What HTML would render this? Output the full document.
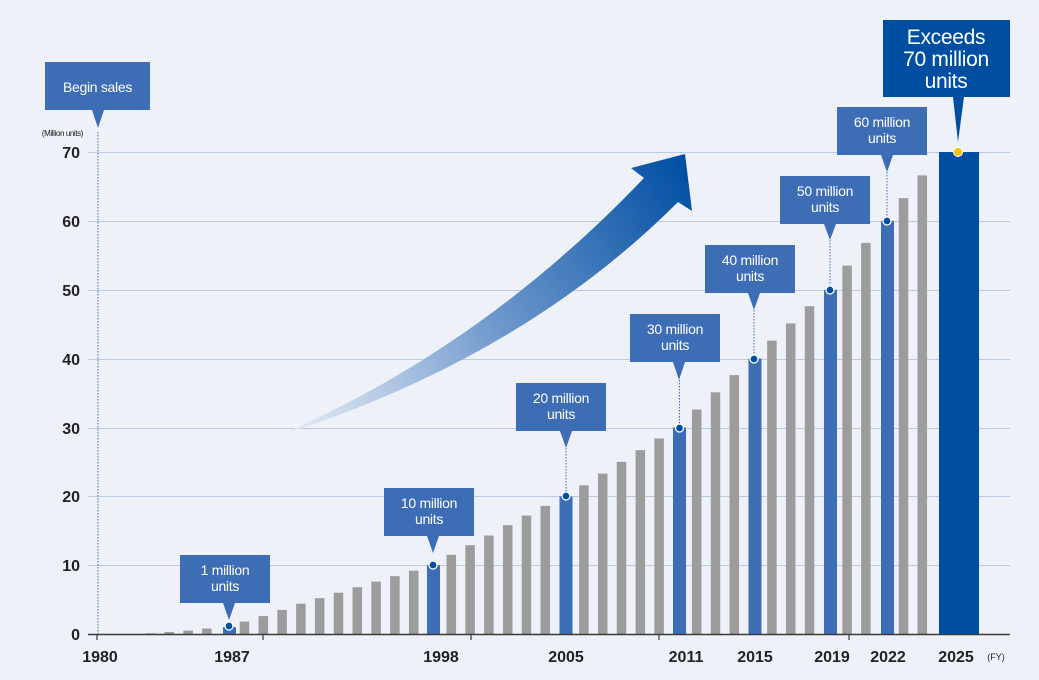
<!DOCTYPE html>
<html><head><meta charset="utf-8"><style>
html,body{margin:0;padding:0;background:#eef1f8;}
svg{display:block;font-family:"Liberation Sans",sans-serif;}
</style></head><body>
<svg width="1039" height="680" viewBox="0 0 1039 680" xmlns="http://www.w3.org/2000/svg">
<defs>
<linearGradient id="ag" x1="275" y1="437" x2="692" y2="170" gradientUnits="userSpaceOnUse">
<stop offset="0" stop-color="#eef1f8" stop-opacity="0.9"/>
<stop offset="0.5" stop-color="#6e98cc"/>
<stop offset="1" stop-color="#004ea2"/>
</linearGradient>
</defs>
<rect width="1039" height="680" fill="#eef1f8"/>
<g stroke="#bccbe2" stroke-width="1">
<line x1="88" y1="152.5" x2="1010" y2="152.5"/>
<line x1="88" y1="221.5" x2="1010" y2="221.5"/>
<line x1="88" y1="290.5" x2="1010" y2="290.5"/>
<line x1="88" y1="359.5" x2="1010" y2="359.5"/>
<line x1="88" y1="428.5" x2="1010" y2="428.5"/>
<line x1="88" y1="496.5" x2="1010" y2="496.5"/>
<line x1="88" y1="565.5" x2="1010" y2="565.5"/>
</g>
<line x1="98" y1="132" x2="98" y2="634" stroke="#3d6db5" stroke-width="1" stroke-dasharray="1.5,1.5"/>
<g font-size="16" font-weight="bold" fill="#222" text-anchor="end">
<text x="80" y="158">70</text><text x="80" y="227">60</text><text x="80" y="296">50</text>
<text x="80" y="365">40</text><text x="80" y="434">30</text><text x="80" y="502">20</text>
<text x="80" y="571">10</text><text x="80" y="640">0</text>
</g>
<text x="83" y="136" font-size="8" text-anchor="end" fill="#222" letter-spacing="-0.4">(Million units)</text>
<path d="M275,437 Q520,360 678,202 L692,211 L685,154 L631,168 L644,178 Q480,350 275,437 Z" fill="url(#ag)"/>
<g fill="#9c9c9c">
<rect x="145.75" y="633.31" width="9.5" height="0.69"/>
<rect x="164.55" y="631.93" width="9.5" height="2.07"/>
<rect x="183.35" y="630.56" width="9.5" height="3.44"/>
<rect x="202.15" y="628.49" width="9.5" height="5.51"/>
<rect x="239.75" y="621.61" width="9.5" height="12.39"/>
<rect x="258.55" y="616.1" width="9.5" height="17.9"/>
<rect x="277.35" y="609.9" width="9.5" height="24.1"/>
<rect x="296.15" y="603.7" width="9.5" height="30.3"/>
<rect x="314.95" y="598.19" width="9.5" height="35.81"/>
<rect x="333.75" y="592.68" width="9.5" height="41.32"/>
<rect x="352.55" y="587.18" width="9.5" height="46.82"/>
<rect x="371.35" y="581.67" width="9.5" height="52.33"/>
<rect x="390.15" y="576.16" width="9.5" height="57.84"/>
<rect x="408.95" y="570.65" width="9.5" height="63.35"/>
<rect x="446.55" y="554.81" width="9.5" height="79.19"/>
<rect x="465.35" y="545.17" width="9.5" height="88.83"/>
<rect x="484.15" y="535.53" width="9.5" height="98.47"/>
<rect x="502.95" y="525.2" width="9.5" height="108.8"/>
<rect x="521.75" y="515.56" width="9.5" height="118.44"/>
<rect x="540.55" y="505.92" width="9.5" height="128.08"/>
<rect x="579.15" y="485.26" width="9.5" height="148.74"/>
<rect x="597.95" y="473.56" width="9.5" height="160.44"/>
<rect x="616.75" y="461.85" width="9.5" height="172.15"/>
<rect x="635.55" y="450.14" width="9.5" height="183.86"/>
<rect x="654.35" y="438.44" width="9.5" height="195.56"/>
<rect x="691.95" y="409.52" width="9.5" height="224.48"/>
<rect x="710.75" y="392.3" width="9.5" height="241.7"/>
<rect x="729.55" y="375.09" width="9.5" height="258.91"/>
<rect x="767.15" y="340.66" width="9.5" height="293.34"/>
<rect x="785.95" y="323.44" width="9.5" height="310.56"/>
<rect x="804.75" y="306.23" width="9.5" height="327.77"/>
<rect x="842.35" y="265.6" width="9.5" height="368.4"/>
<rect x="861.15" y="242.88" width="9.5" height="391.12"/>
<rect x="898.75" y="198.12" width="9.5" height="435.88"/>
<rect x="917.55" y="175.39" width="9.5" height="458.61"/>
</g>
<g fill="#3d6db5">
<rect x="223" y="627.11" width="13" height="6.89"/>
<rect x="427" y="565.14" width="13" height="68.86"/>
<rect x="559.5" y="496.28" width="13" height="137.72"/>
<rect x="673" y="427.42" width="13" height="206.58"/>
<rect x="748.5" y="358.56" width="13" height="275.44"/>
<rect x="824" y="289.7" width="13" height="344.3"/>
<rect x="881" y="220.84" width="13" height="413.16"/>
</g>
<rect x="939" y="152" width="40" height="482" fill="#004ea2"/>
<line x1="88" y1="634.5" x2="1010" y2="634.5" stroke="#3a3a3a" stroke-width="1.5"/>
<g stroke="#3a3a3a" stroke-width="1.2">
<line x1="97" y1="634" x2="97" y2="640"/><line x1="263" y1="634" x2="263" y2="640"/>
<line x1="471" y1="634" x2="471" y2="640"/><line x1="659" y1="634" x2="659" y2="640"/>
<line x1="849" y1="634" x2="849" y2="640"/>
</g>
<g font-size="16" font-weight="bold" fill="#222" text-anchor="middle">
<text x="100" y="662">1980</text><text x="232" y="662">1987</text><text x="441" y="662">1998</text>
<text x="566" y="662">2005</text><text x="686" y="662">2011</text><text x="755" y="662">2015</text>
<text x="832" y="662">2019</text><text x="888" y="662">2022</text><text x="956" y="662">2025</text>
</g>
<text x="996" y="660" font-size="9" fill="#222" text-anchor="middle">(FY)</text>
<g stroke="#3d6db5" stroke-width="1" stroke-dasharray="1.5,1.5">
<line x1="566" y1="448" x2="566" y2="496"/><line x1="679.5" y1="380" x2="679.5" y2="428"/>
<line x1="754" y1="310" x2="754" y2="359"/><line x1="830" y1="240" x2="830" y2="290"/>
<line x1="887" y1="172" x2="887" y2="221"/>
</g>
<g fill="#3d6db5">
<rect x="45" y="62" width="105" height="48"/><polygon points="92,110 104,110 98,128"/>
<rect x="180" y="555" width="90" height="48"/><polygon points="223,603 235,603 229,620"/>
<rect x="384" y="488" width="90" height="48"/><polygon points="427,536 439,536 433,553"/>
<rect x="516" y="383" width="90" height="48"/><polygon points="560,431 572,431 566,448"/>
<rect x="630" y="314" width="90" height="48"/><polygon points="673,362 685,362 679,380"/>
<rect x="705" y="245" width="90" height="48"/><polygon points="748,293 760,293 754,310"/>
<rect x="780" y="176" width="90" height="48"/><polygon points="824,224 836,224 830,240"/>
<rect x="837" y="107" width="90" height="48"/><polygon points="881,155 893,155 887,172"/>
</g>
<rect x="883" y="20" width="127" height="77" fill="#004ea2"/><polygon points="953,97 964,97 958,142" fill="#004ea2"/>
<g fill="#fff" text-anchor="middle" font-size="14" letter-spacing="-0.3">
<text x="97.5" y="92">Begin sales</text>
<text x="225" y="575">1 million</text><text x="225" y="591">units</text>
<text x="429" y="508">10 million</text><text x="429" y="524">units</text>
<text x="561" y="403">20 million</text><text x="561" y="419">units</text>
<text x="675" y="334">30 million</text><text x="675" y="350">units</text>
<text x="750" y="265">40 million</text><text x="750" y="281">units</text>
<text x="825" y="196">50 million</text><text x="825" y="212">units</text>
<text x="882" y="127">60 million</text><text x="882" y="143">units</text>
</g>
<g fill="#fff" text-anchor="middle" font-size="21" letter-spacing="-0.3">
<text x="946" y="44">Exceeds</text><text x="946" y="66">70 million</text><text x="946" y="88">units</text>
</g>
<g stroke="#fff" stroke-width="1.3" fill="#004ea2">
<circle cx="229" cy="626" r="4"/><circle cx="433" cy="565" r="4"/><circle cx="566" cy="496" r="4"/>
<circle cx="679.5" cy="428" r="4"/><circle cx="754" cy="359" r="4"/><circle cx="830" cy="290" r="4"/>
<circle cx="887" cy="221" r="4"/>
</g>
<circle cx="958" cy="152" r="4.5" fill="#f2c500" stroke="#fff" stroke-width="1"/>
</svg>
</body></html>
